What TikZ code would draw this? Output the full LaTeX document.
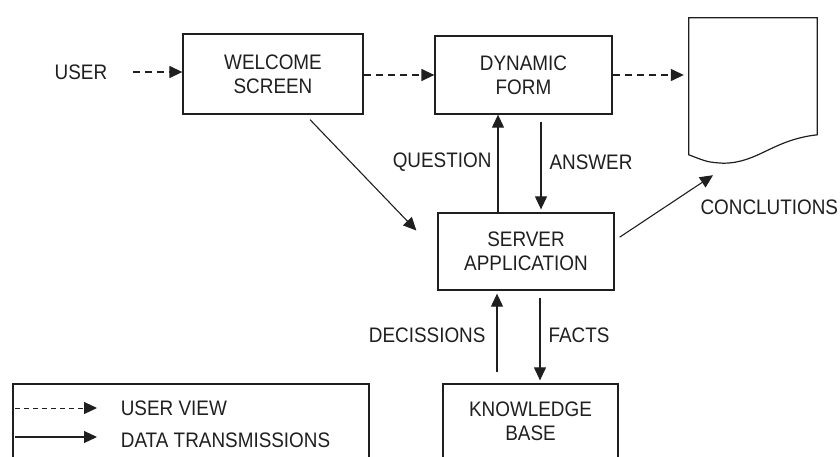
\documentclass[tikz,border=0pt]{standalone}
\usepackage{fontspec}
\setmainfont[FakeStretch=0.9]{Liberation Sans}
\usetikzlibrary{arrows.meta,calc,positioning}
\definecolor{ink}{gray}{0.12}
\tikzset{
    >={Triangle[length=13pt,width=12pt]},
    every node/.style={font=\fontsize{21}{24}\selectfont, text=ink},
    block/.style={draw=ink, line width=1.3pt, minimum width=178pt, minimum height=79pt, align=center, inner sep=0pt},
    view/.style={->, draw=ink, line width=1.4pt, dash pattern=on 7pt off 5pt},
    data/.style={->, draw=ink, line width=1.1pt},
}

\begin{document}
\begin{tikzpicture}[x=1pt,y=-1pt]
    \useasboundingbox (0,0) rectangle (840,456);
    \clip (0,0) rectangle (840,456);

    \node (user) at (81,72) {USER};
    \node[block, minimum width=180pt, minimum height=80pt] (welcome) at (273,74) {WELCOME\\SCREEN};
    \node[block, minimum width=177pt, minimum height=78pt] (form) at (523.5,75) {DYNAMIC\\FORM};
    \node[block, minimum width=176pt, minimum height=77pt] (server) at (526,251.5) {SERVER\\APPLICATION};
    \node[block, minimum width=175pt, minimum height=74pt] (kb) at (530.5,421) {KNOWLEDGE\\BASE};

    \node[minimum width=128pt, minimum height=145pt, inner sep=0pt] (doc) at (753,90.5) {};
    \draw[draw=ink, line width=1.2pt] (doc.north west) -- (doc.north east) -- ($(doc.north east)+(0,117)$)
        .. controls +(-45,5) and +(35,0) .. ($(doc.south)+(-30,0)$)
        .. controls +(-15,-1) .. ($(doc.north west)+(0,137)$) -- cycle;

    \draw[view, shorten <=22pt] (user.east) -- (user.east -| welcome.west);
    \draw[view] (welcome.east |- form.east) -- (form.west);
    \draw[view, shorten >=5pt] (form.east) -- (form.east -| doc.west);

    \draw[data] ($(welcome.south)+(37,5)$) -- ($(server.west)+(-21,-21)$);
    \draw[data] ($(server.north)+(-28,0)$) coordinate (q) -- (q |- form.south);
    \draw[data, shorten <=7pt, shorten >=3pt] ($(form.south)+(17.5,0)$) coordinate (a) -- (a |- server.north);
    \draw[data, shorten <=6pt] ([yshift=11pt]server.east) -- ($(doc.south)+(-40,12)$);
    \draw[data, shorten <=11pt, shorten >=3pt] ($(kb.north)+(-33.5,0)$) coordinate (d) -- (d |- server.south);
    \draw[data, shorten <=7pt, shorten >=3pt] ($(server.south)+(14,0)$) coordinate (f) -- (f |- kb.north);

    \node[left] (question) at (495,162) {QUESTION};
    \node[right] (answer) at (546,162) {ANSWER};
    \node[right] (conclutions) at (697,207) {CONCLUTIONS};
    \node[left] (decissions) at (489,335) {DECISSIONS};
    \node[right] (facts) at (545,335) {FACTS};

    \node[draw=ink, line width=1.3pt, minimum width=356pt, minimum height=90pt, inner sep=0pt] (legend) at (191,429) {};
    \coordinate (lv) at (15,408);
    \coordinate (ld) at (15,437);
    \draw[view, dash pattern=on 5pt off 4pt, line width=1pt] (lv) -- +(82,0) node[right=20pt] (uview) {USER VIEW};
    \draw[data] (ld) -- +(82,0) node[right=20pt, yshift=-3pt] (dtrans) {DATA TRANSMISSIONS};
\end{tikzpicture}
\end{document}
